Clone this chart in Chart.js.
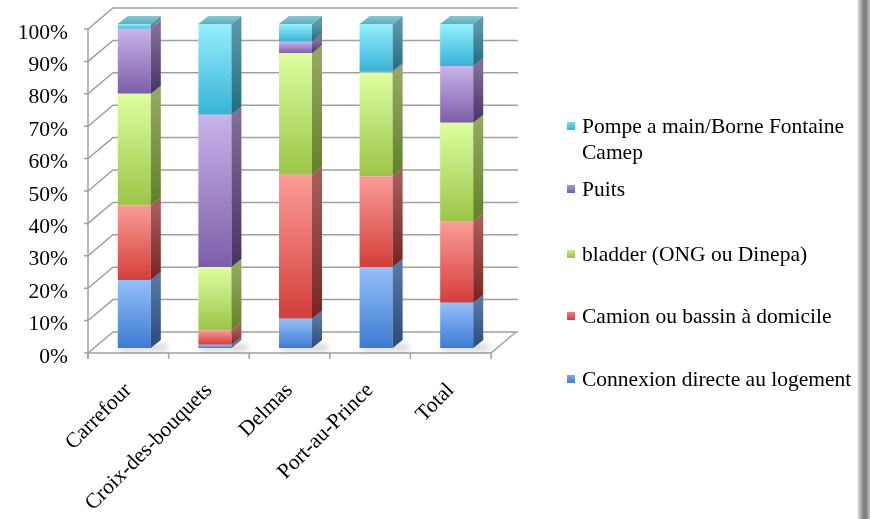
<!DOCTYPE html>
<html>
<head>
<meta charset="utf-8">
<script src="https://cdn.jsdelivr.net/npm/chart.js@4.4.1/dist/chart.umd.min.js"></script>
<style>
  html, body { margin: 0; padding: 0; background: #fff; }
  #wrap { position: relative; width: 870px; height: 519px; overflow: hidden; }
  #edge { position: absolute; left: 857px; top: 0; width: 13px; height: 519px;
          background: linear-gradient(to right, #f2f2f2 0%, #a8a8a8 30%, #7b7b7b 55%, #8a8a8a 75%, #c6c6c6 100%); }
</style>
</head>
<body>
<div id="wrap">
  <canvas id="chart" width="870" height="519"></canvas>
  <div id="edge"></div>
</div>
<script>
"use strict";

// Data (percent of households per water source)
var _categories = ['Carrefour', 'Croix-des-bouquets', 'Delmas', 'Port-au-Prince', 'Total'];
var _connexion = [21, 1, 9, 25, 14];
var _camion    = [23, 4.5, 44.5, 28, 25];
var _bladder   = [34.5, 19.5, 37.5, 32, 30.5];
var _puits     = [20, 47, 3.5, 0.5, 17.5];
var _pompe     = [1.5, 28, 5.5, 14.5, 13];

var _seriesLabels = [
  'Connexion directe au logement',
  'Camion ou bassin à domicile',
  'bladder (ONG ou Dinepa)',
  'Puits',
  ['Pompe a main/Borne Fontaine', 'Camep']
];
var _yTicks = [0, 10, 20, 30, 40, 50, 60, 70, 80, 90, 100];

// colours: front face (top -> bottom), side face, legend swatch
var _frontColors = [
  ['#94c0fa', '#3d7bd1'],
  ['#fb9c97', '#d33e39'],
  ['#defe9f', '#9bc548'],
  ['#c8b4ea', '#7c5ea8'],
  ['#97effe', '#36b3d7']
];
var _sideColors = [
  ['#5577a6', '#2a4a7a'],
  ['#a65d5a', '#782321'],
  ['#92a862', '#608128'],
  ['#806d98', '#483266'],
  ['#5a98a8', '#226c80']
];
var _swatches = [
  ['#7aa9ee', '#3f7ccf'],
  ['#f27d78', '#cf3d38'],
  ['#c8ec84', '#98c247'],
  ['#ac94d6', '#7a5ca6'],
  ['#78dcf4', '#36b2d6']
];

var FONT = "'Liberation Serif', serif";
var FSIZE = 21.5;
var DX = 10, DY = -8;                    // bar depth
var FRONT = {x: -6, y: 5};               // axis plane, relative to bar fronts
var BACK = {x: 19, y: -16};              // back wall

function _frontFill(_d) {
  return function(ctx) {
    var chart = ctx.chart;
    if (!chart.chartArea || ctx.type !== 'data') { return _frontColors[_d][1]; }
    var _i = ctx.dataIndex;
    var _sum = 0;
    for (var k = 0; k < _d; k++) { _sum += chart.data.datasets[k].data[_i]; }
    var _yb = chart.scales.y.getPixelForValue(_sum);
    var _yt = chart.scales.y.getPixelForValue(_sum + chart.data.datasets[_d].data[_i]);
    if (_yb - _yt < 0.5) { return _frontColors[_d][1]; }
    var _g = chart.ctx.createLinearGradient(0, _yt, 0, _yb);
    _g.addColorStop(0, _frontColors[_d][0]);
    _g.addColorStop(1, _frontColors[_d][1]);
    return _g;
  };
}

var _seriesData = [_connexion, _camion, _bladder, _puits, _pompe];
var _datasets = _seriesData.map(function(_values, _d) {
  return {
    label: Array.isArray(_seriesLabels[_d]) ? _seriesLabels[_d].join(' ') : _seriesLabels[_d],
    data: _values,
    backgroundColor: _frontFill(_d),
    borderWidth: 0,
    barPercentage: 0.41,
    categoryPercentage: 1
  };
});

// walls, gridlines and floor drawn in pseudo 3D
var _walls = {
  id: 'walls3d',
  beforeDatasetsDraw: function(chart) {
    var _ctx = chart.ctx, _y = chart.scales.y, _a = chart.chartArea;
    _ctx.save();
    _ctx.strokeStyle = '#a0a0a0';
    _ctx.lineWidth = 1.5;
    _yTicks.forEach(function(v) {
      var _py = _y.getPixelForValue(v);
      _ctx.beginPath();
      _ctx.moveTo(_a.left + FRONT.x - 4, _py + FRONT.y);
      _ctx.lineTo(_a.left + FRONT.x, _py + FRONT.y);
      _ctx.lineTo(_a.left + BACK.x, _py + BACK.y);
      _ctx.lineTo(_a.right + BACK.x + 2, _py + BACK.y);
      _ctx.stroke();
    });
    var _base = _y.getPixelForValue(0);
    // left axis
    _ctx.beginPath();
    _ctx.moveTo(_a.left + FRONT.x, _y.getPixelForValue(100) + FRONT.y);
    _ctx.lineTo(_a.left + FRONT.x, _base + FRONT.y + 6);
    _ctx.stroke();
    // floor front edge + right diagonal
    _ctx.beginPath();
    _ctx.moveTo(_a.left + FRONT.x, _base + FRONT.y);
    _ctx.lineTo(_a.right + FRONT.x, _base + FRONT.y);
    _ctx.lineTo(_a.right + BACK.x, _base + BACK.y);
    _ctx.stroke();
    var _cw = _a.width / _categories.length;
    for (var i = 0; i <= _categories.length; i++) {
      var _px = _a.left + FRONT.x + i * _cw;
      _ctx.beginPath();
      _ctx.moveTo(_px, _base + FRONT.y);
      _ctx.lineTo(_px, _base + FRONT.y + 6);
      _ctx.stroke();
    }
    // soft shadows under the bars
    var _meta = chart.getDatasetMeta(0);
    _ctx.filter = 'blur(3px)';
    _ctx.fillStyle = 'rgba(0,0,0,0.22)';
    _meta.data.forEach(function(_el) {
      var _l = _el.x - _el.width / 2;
      _ctx.fillRect(_l + 2, _el.base - 3, _el.width + DX + 4, 5);
    });
    _ctx.restore();
  },
  afterDatasetsDraw: function(chart) {
    var _ctx = chart.ctx;
    var _n = chart.data.datasets.length;
    _ctx.save();
    chart.data.labels.forEach(function(_lab, _i) {
      var _top = null;
      for (var d = 0; d < _n; d++) {
        var _el = chart.getDatasetMeta(d).data[_i];
        if (Math.abs(_el.base - _el.y) < 0.3) { continue; }
        var _r = _el.x + _el.width / 2;
        var _g = _ctx.createLinearGradient(0, _el.y, 0, _el.base);
        _g.addColorStop(0, _sideColors[d][0]);
        _g.addColorStop(1, _sideColors[d][1]);
        _ctx.fillStyle = _g;
        _ctx.beginPath();
        _ctx.moveTo(_r, _el.base);
        _ctx.lineTo(_r, _el.y);
        _ctx.lineTo(_r + DX, _el.y + DY);
        _ctx.lineTo(_r + DX, _el.base + DY);
        _ctx.closePath();
        _ctx.fill();
        _top = _el;
      }
      if (_top) {
        var _l = _top.x - _top.width / 2, _rr = _top.x + _top.width / 2;
        var _tg = _ctx.createLinearGradient(0, _top.y + DY, 0, _top.y);
        _tg.addColorStop(0, '#86c6d4');
        _tg.addColorStop(1, '#62aabb');
        _ctx.fillStyle = _tg;
        _ctx.beginPath();
        _ctx.moveTo(_l, _top.y);
        _ctx.lineTo(_l + DX, _top.y + DY);
        _ctx.lineTo(_rr + DX, _top.y + DY);
        _ctx.lineTo(_rr, _top.y);
        _ctx.closePath();
        _ctx.fill();
      }
    });
    _ctx.restore();
  },
  afterDraw: function(chart) {
    // legend, top entry first (reverse of stacking)
    var _ctx = chart.ctx;
    var _rows = [127, 190, 255, 317, 380];
    _ctx.save();
    _ctx.font = FSIZE + 'px ' + FONT;
    _ctx.textBaseline = 'middle';
    for (var k = 0; k < _seriesLabels.length; k++) {
      var d = _seriesLabels.length - 1 - k;
      var _lines = Array.isArray(_seriesLabels[d]) ? _seriesLabels[d] : [_seriesLabels[d]];
      var _sg = _ctx.createLinearGradient(0, _rows[k] - 5, 0, _rows[k] + 3);
      _sg.addColorStop(0, _swatches[d][0]);
      _sg.addColorStop(1, _swatches[d][1]);
      _ctx.fillStyle = _sg;
      _ctx.fillRect(567, _rows[k] - 5, 8, 8);
      _ctx.fillStyle = '#000';
      _lines.forEach(function(_t, j) {
        _ctx.fillText(_t, 582, _rows[k] + j * 26);
      });
    }
    _ctx.restore();
  }
};

new Chart(document.getElementById('chart'), {
  type: 'bar',
  data: { labels: _categories, datasets: _datasets },
  plugins: [_walls],
  options: {
    responsive: false,
    animation: false,
    layout: { padding: { top: 24, right: 373, left: 0, bottom: 0 } },
    plugins: { legend: { display: false }, tooltip: { enabled: false } },
    scales: {
      x: {
        stacked: true,
        grid: { display: false, drawTicks: false },
        border: { display: false },
        ticks: { font: { family: FONT, size: FSIZE }, color: '#000', minRotation: 45, maxRotation: 45,
                 labelOffset: -6, padding: 30, autoSkip: false },
        afterFit: function(s) { s.height = 171; s.paddingLeft = 0; s.paddingRight = 0; }
      },
      y: {
        stacked: true, min: 0, max: 100,
        grid: { display: false, drawTicks: false },
        border: { display: false },
        ticks: { stepSize: 10, font: { family: FONT, size: FSIZE }, color: '#000', padding: 26, labelOffset: 9,
                 callback: function(v) { return v + '%'; } },
        afterFit: function(s) { s.width = 94; s.paddingTop = 0; s.paddingBottom = 0; }
      }
    }
  }
});
</script>
</body>
</html>
